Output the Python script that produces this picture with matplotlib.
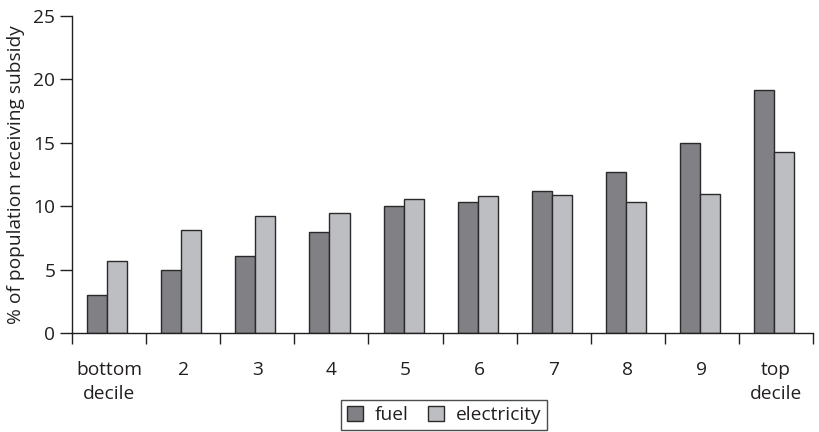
import matplotlib.pyplot as plt
import numpy as np

categories = ["bottom\ndecile", "2", "3", "4", "5", "6", "7", "8", "9", "top\ndecile"]
fuel = [3.0, 5.0, 6.1, 8.0, 10.0, 10.3, 11.2, 12.7, 15.0, 19.2]
electricity = [5.7, 8.1, 9.2, 9.5, 10.6, 10.8, 10.9, 10.3, 11.0, 14.3]

plt.rcParams['font.family'] = ['Open Sans', 'DejaVu Sans']
fs = 13.8

fig = plt.figure(figsize=(8.19, 4.32), dpi=100)
ax = fig.add_axes([0.0879, 0.229, 0.9048, 0.734])

x = np.arange(len(categories))
w = 0.27
offset = -0.025
ax.bar(x + offset - w / 2, fuel, w, color="#808085", edgecolor="#2a2a2a", linewidth=1.0, label="fuel")
ax.bar(x + offset + w / 2, electricity, w, color="#bdbec2", edgecolor="#2a2a2a", linewidth=1.0, label="electricity")

ax.set_xlim(-0.5, len(categories) - 0.5)
ax.set_ylim(0, 25)
ax.set_yticks([0, 5, 10, 15, 20, 25])
ax.set_xticks(x)
ax.set_xticklabels(categories, fontsize=fs, color="#231f20", linespacing=1.45)
ax.set_xticks(np.arange(len(categories) + 1) - 0.5, minor=True)
ax.tick_params(axis="x", which="major", length=0, pad=20)
ax.tick_params(axis="x", which="minor", length=8, width=1, color="#231f20", direction="out")
ax.tick_params(axis="y", length=9, width=1, color="#231f20", labelsize=fs, labelcolor="#231f20", pad=3)

for s in ["top", "right"]:
    ax.spines[s].set_visible(False)
for s in ["left", "bottom"]:
    ax.spines[s].set_color("#231f20")
    ax.spines[s].set_linewidth(1.0)

ax.set_ylabel("% of population receiving subsidy", fontsize=fs, color="#231f20", labelpad=6)

leg = fig.legend(loc="upper center", bbox_to_anchor=(0.542, 0.074), ncol=2, fontsize=fs,
                 frameon=True, fancybox=False, edgecolor="#231f20", handlelength=0.85,
                 handleheight=0.85, handletextpad=0.6, columnspacing=1.0, borderpad=0.3,
                 borderaxespad=0)
leg.get_frame().set_linewidth(1.0)
for t in leg.get_texts():
    t.set_color("#231f20")

fig.savefig("out.png", dpi=100)
